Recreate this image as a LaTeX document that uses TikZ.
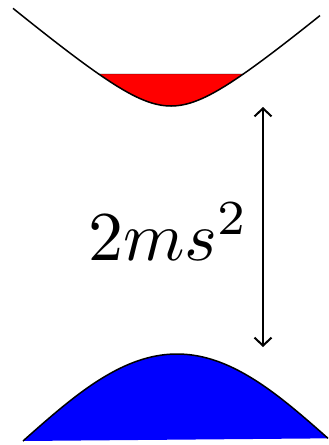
\documentclass[tikz,border=0pt]{standalone}
\usetikzlibrary{arrows.meta}

\begin{document}
\begin{tikzpicture}[x=1pt,y=-1pt]
\useasboundingbox (0,0) rectangle (329,445);
% upper band, filled part
\draw[fill=red,draw=black,thin,smooth,samples=60,domain=-7.23:7.23] plot ({171+10*\x},{106-8.44*(sqrt(25+\x*\x)-5)}) -- cycle;
\draw[black,line width=1.5pt,smooth,samples=100,domain=-15.8:14.9] plot ({171+10*\x},{106-8.44*(sqrt(25+\x*\x)-5)});
% lower band
\fill[blue,smooth,samples=100,domain=23:328] plot (\x,{354+87*(1-cos((\x-177)/154*90))}) -- cycle;
\draw[black,line width=1.5pt,smooth,samples=100,domain=23:328] plot (\x,{354+87*(1-cos((\x-177)/154*90))});
% gap
\coordinate (gaptop) at (263,107);
\coordinate (gapbot) at (263,347);
\draw[{Straight Barb[length=8pt,width=17pt]}-{Straight Barb[length=8pt,width=17pt]},line width=2pt] (gaptop) -- (gapbot);
\node[anchor=base,scale=7,inner sep=0pt] (gap) at (168.5,260) {$2ms^2$};
\end{tikzpicture}
\end{document}
